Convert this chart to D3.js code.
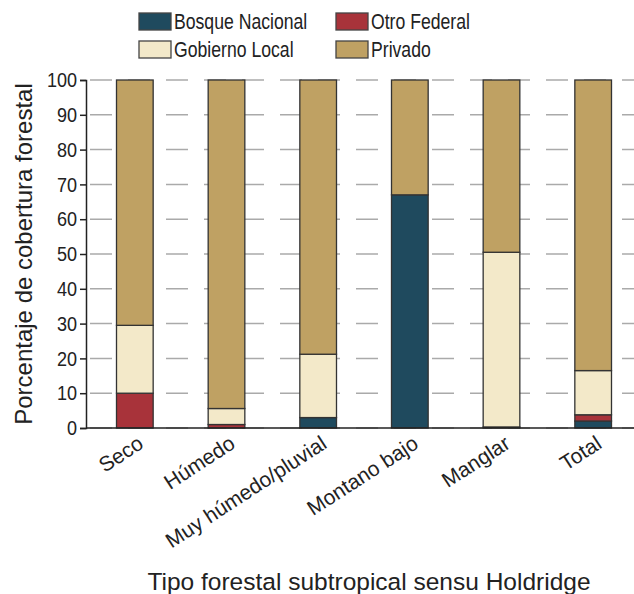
<!DOCTYPE html>
<html>
<head>
<meta charset="utf-8">
<script src="https://cdn.jsdelivr.net/npm/d3@7"></script>
<style>
body { margin: 0; background: #fff; }
text { font-family: "Liberation Sans", Arial, sans-serif; fill: #222; }
</style>
</head>
<body>
<div id="canvas"></div>
<script>
"use strict"

let svgWidth = 634
let svgHeight = 594

/* data */
let categories = ["Seco", "Húmedo", "Muy húmedo/pluvial", "Montano bajo", "Manglar", "Total"]
let seriesNames = ["Bosque Nacional", "Otro Federal", "Gobierno Local", "Privado"]
let bosqueNacional = [0, 0, 3, 67, 0, 2]
let otroFederal = [10, 1, 0, 0, 0.3, 1.8]
let gobiernoLocal = [19.5, 4.6, 18.2, 0, 50.2, 12.7]
let privado = [70.5, 94.4, 78.8, 33, 49.5, 83.5]
let yTicks = [0, 10, 20, 30, 40, 50, 60, 70, 80, 90, 100]

let colors = ["#1f4a5e", "#a8333a", "#f3e9c9", "#bfa163"]

let margin = {left: 86, right: -5, top: 80, bottom: 166}

let svg = d3.select("#canvas")
    .append("svg")
    .attr("width", svgWidth)
    .attr("height", svgHeight)

let table = categories.map((c, i) => ({
    cat: c,
    "Bosque Nacional": bosqueNacional[i],
    "Otro Federal": otroFederal[i],
    "Gobierno Local": gobiernoLocal[i],
    "Privado": privado[i]
}))

let stacked = d3.stack().keys(seriesNames)(table)

/* scales */
let xScale = d3.scaleBand()
    .domain(categories)
    .range([margin.left + 3, svgWidth - margin.right])
    .paddingInner(0.6)
    .paddingOuter(0.3)

let yScale = d3.scaleLinear()
    .domain([0, 100])
    .range([svgHeight - margin.bottom, margin.top])

/* dashed gridlines */
svg.append("g")
   .selectAll("line")
   .data(yTicks)
   .join("line")
   .attr("x1", margin.left + 4)
   .attr("x2", svgWidth)
   .attr("y1", d => yScale(d))
   .attr("y2", d => yScale(d))
   .attr("stroke", "#aaa")
   .attr("stroke-width", 1.5)
   .attr("stroke-dasharray", "22 16")

/* bars */
svg.append("g")
   .selectAll("g")
   .data(stacked)
   .join("g")
   .attr("fill", (d, i) => colors[i])
   .selectAll("rect")
   .data(d => d)
   .join("rect")
   .attr("x", d => xScale(d.data.cat))
   .attr("width", xScale.bandwidth())
   .attr("y", d => yScale(d[1]))
   .attr("height", d => yScale(d[0]) - yScale(d[1]))
   .attr("stroke", "#333")
   .attr("stroke-width", 1.3)

/* y axis */
let yAxis = d3.axisLeft(yScale)
    .tickValues(yTicks)
    .tickSize(6)
    .tickPadding(3)

let yG = svg.append("g")
   .attr("transform", "translate(" + margin.left + ",0)")
   .call(yAxis)
yG.attr("font-family", null).attr("font-size", null)
yG.select(".domain").attr("stroke", "#222").attr("stroke-width", 1.5)
yG.selectAll(".tick line").attr("stroke", "#222").attr("stroke-width", 1.5)
// labels in the picture are a bit condensed
yG.selectAll(".tick text")
   .attr("font-size", "21px")
   .attr("fill", "#222")
   .attr("x", -9 / 0.86)
   .attr("transform", "scale(0.86,1)")

/* x axis line */
svg.append("line")
   .attr("x1", margin.left)
   .attr("x2", svgWidth)
   .attr("y1", yScale(0))
   .attr("y2", yScale(0))
   .attr("stroke", "#222")
   .attr("stroke-width", 1.5)

/* x tick labels */
svg.append("g")
   .selectAll("text")
   .data(categories)
   .join("text")
   .attr("text-anchor", "end")
   .attr("font-size", "21px")
   .attr("transform", d => "translate(" + (xScale(d) + xScale.bandwidth() / 2 + 10) + "," + (yScale(0) + 19) + ") rotate(-33)")
   .text(d => d)

/* axis titles */
svg.append("text")
   .attr("x", 369)
   .attr("y", 590)
   .attr("text-anchor", "middle")
   .attr("font-size", "24.5px")
   .text("Tipo forestal subtropical sensu Holdridge")

svg.append("text")
   .attr("transform", "translate(32," + yScale(50) + ") rotate(-90)")
   .attr("text-anchor", "middle")
   .attr("font-size", "24px")
   .text("Porcentaje de cobertura forestal")

/* legend */
let legendPos = [[139, 13], [336, 13], [139, 41], [336, 41]]
let legend = svg.append("g")
   .selectAll("g")
   .data(seriesNames)
   .join("g")
   .attr("transform", (d, i) => "translate(" + legendPos[i][0] + "," + legendPos[i][1] + ")")

legend.append("rect")
   .attr("width", 32)
   .attr("height", 17)
   .attr("fill", (d, i) => colors[i])
   .attr("stroke", "#444")
   .attr("stroke-width", 1.3)

legend.append("text")
   .attr("transform", "translate(35,16) scale(0.82,1)")
   .attr("font-size", "21.5px")
   .text(d => d)
</script>
</body>
</html>
